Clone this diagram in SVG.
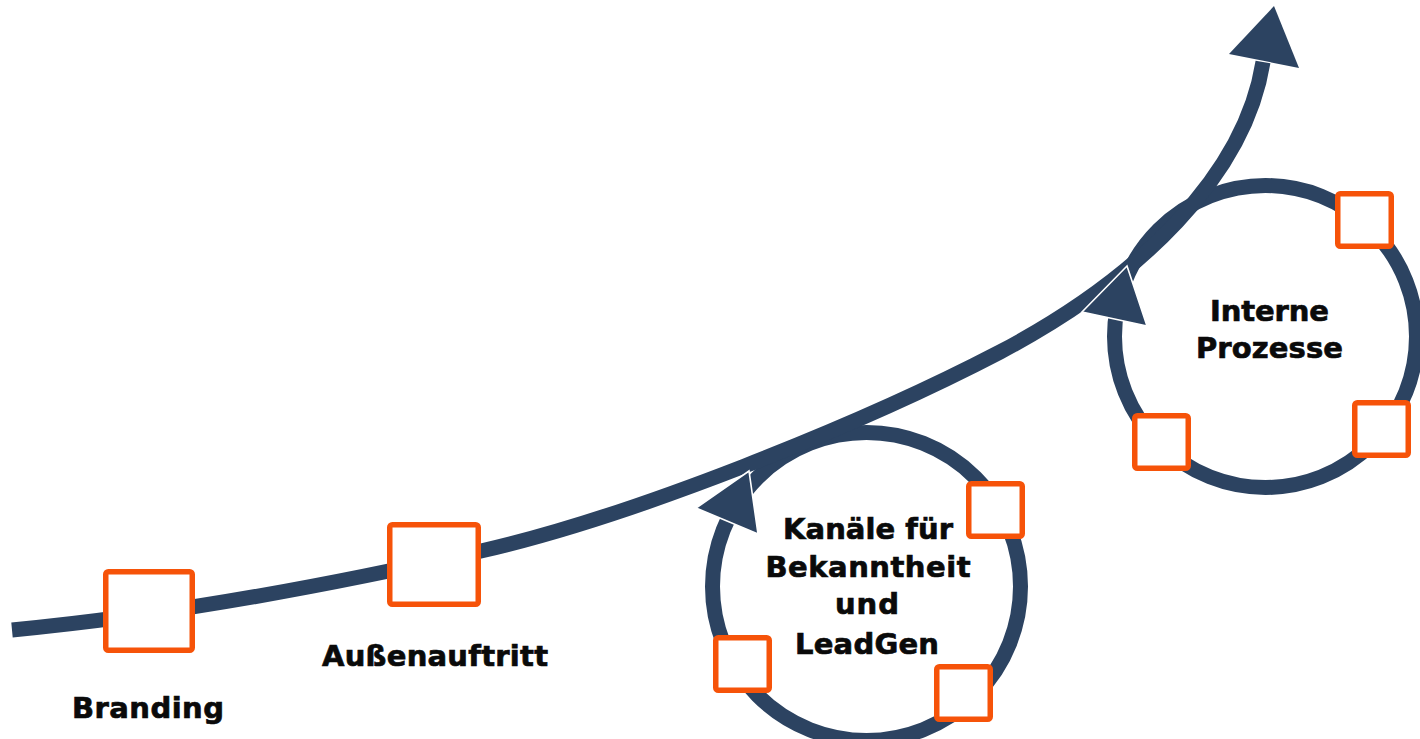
<svg xmlns="http://www.w3.org/2000/svg" width="1420" height="739" viewBox="0 0 1420 739">
  <style>
    .track { fill: none; stroke: #2C4361; stroke-width: 15; }
    .head { fill: #2C4361; }
    .head-edged { fill: #2C4361; stroke: #ffffff; stroke-width: 1.6; stroke-linejoin: miter; }
    .box { fill: #ffffff; stroke: #F65309; stroke-width: 5.5; }
    .label { font-family: "DejaVu Sans", "Liberation Sans", sans-serif; font-weight: bold; font-size: 29px; fill: #0a0a0a; stroke: #0a0a0a; stroke-width: 0.7; text-anchor: middle; }
  </style>

  <!-- loops and the growth curve -->
  <g id="connectors">
    <circle id="loop-kanaele" class="track" cx="866.5" cy="586.5" r="154"/>
    <circle id="loop-prozesse" class="track" cx="1265.5" cy="336.5" r="151"/>
    <path id="growth-curve" class="track" d="M12,630 C150,617 300,592 481,551 C631,517 860,425 1000,352 C1140,278 1245,175 1263,62"/>
    <polygon id="growth-head" class="head" points="1274,6 1229,54 1299,68"/>
    <polygon id="loop-kanaele-head" class="head-edged" points="749,471 696,508 758,534"/>
    <polygon id="loop-prozesse-head" class="head-edged" points="1127,266 1082,312 1147,326"/>
  </g>

  <g id="branding">
    <rect class="box" x="105.75" y="571.75" width="86.5" height="78.5" rx="2.5"/>
    <text class="label" x="148" y="718" textLength="152">Branding</text>
  </g>

  <g id="aussenauftritt">
    <rect class="box" x="389.75" y="524.75" width="88.5" height="79.5" rx="2.5"/>
    <text class="label" x="435" y="666" textLength="226">Außenauftritt</text>
  </g>

  <g id="kanaele">
    <text class="label" x="868" y="539" textLength="170">Kanäle für</text>
    <text class="label" x="868" y="577" textLength="205">Bekanntheit</text>
    <text class="label" x="867" y="614" textLength="64">und</text>
    <text class="label" x="867" y="654" textLength="144">LeadGen</text>
    <rect class="box" x="968.75" y="483.75" width="53.5" height="52.5" rx="2.5"/>
    <rect class="box" x="715.75" y="637.75" width="53.5" height="52.5" rx="2.5"/>
    <rect class="box" x="936.75" y="666.75" width="53.5" height="52.5" rx="2.5"/>
  </g>

  <g id="interne-prozesse">
    <text class="label" x="1269.5" y="321" textLength="119">Interne</text>
    <text class="label" x="1269.5" y="358" textLength="147">Prozesse</text>
    <rect class="box" x="1337.75" y="193.75" width="53.5" height="52.5" rx="2.5"/>
    <rect class="box" x="1354.75" y="402.75" width="53.5" height="52.5" rx="2.5"/>
    <rect class="box" x="1134.75" y="415.75" width="53.5" height="52.5" rx="2.5"/>
  </g>
</svg>
